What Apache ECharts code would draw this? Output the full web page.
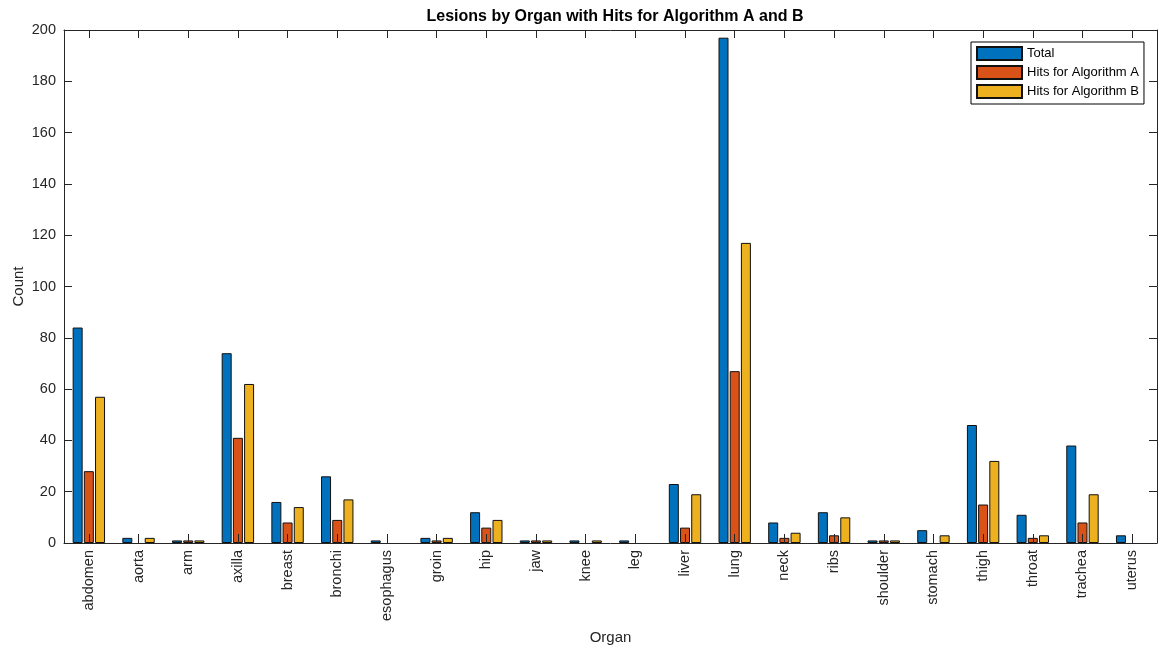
<!DOCTYPE html>
<html>
<head>
<meta charset="utf-8">
<script src="https://cdn.jsdelivr.net/npm/echarts@6/dist/echarts.min.js"></script>
<style>
	html, body { margin: 0; padding: 0; background: #fff; }
	#chart { width: 1159px; height: 649px; }
</style>
</head>
<body>
<div id="chart"></div>
<script>
"use strict";

var organs = ['abdomen', 'aorta', 'arm', 'axilla', 'breast', 'bronchi', 'esophagus', 'groin', 'hip', 'jaw', 'knee',
	'leg', 'liver', 'lung', 'neck', 'ribs', 'shoulder', 'stomach', 'thigh', 'throat', 'trachea', 'uterus'];
var total = [84, 2, 1, 74, 16, 26, 1, 2, 12, 1, 1, 1, 23, 197, 8, 12, 1, 5, 46, 11, 38, 3];
var hitsA = [28, 0, 1, 41, 8, 9, 0, 1, 6, 1, 0, 0, 6, 67, 2, 3, 1, 0, 15, 2, 8, 0];
var hitsB = [57, 2, 1, 62, 14, 17, 0, 2, 9, 1, 1, 0, 19, 117, 4, 10, 1, 3, 32, 3, 19, 0];
var yTicks = [0, 20, 40, 60, 80, 100, 120, 140, 160, 180, 200];

var axisColor = '#262626';
var fontFamily = '"Liberation Sans", Arial, sans-serif';

var myChart = echarts.init(document.getElementById('chart'));

// zero counts draw no bar at all in the original
function noZero(arr) {
	return arr.map(function (v) { return v === 0 ? '-' : v; });
}

function barSeries(name, data, color) {
	return {
		name: name,
		type: 'bar',
		data: noZero(data),
		barWidth: 10,
		barGap: '12%',
		itemStyle: {
			color: color,
			borderColor: '#111',
			borderWidth: 1
		}
	};
}

var option = {
	animation: false,
	textStyle: { fontFamily: fontFamily },
	title: {
		text: 'Lesions by Organ with Hits for Algorithm A and B',
		left: 610,
		textAlign: 'center',
		top: 4,
		textStyle: { fontSize: 16, fontWeight: 'bold', color: '#000', fontFamily: fontFamily }
	},
	legend: {
		orient: 'vertical',
		left: 971,
		top: 42,
		padding: [4, 5, 5, 5],
		itemGap: 4,
		itemWidth: 45,
		itemHeight: 13,
		icon: 'rect',
		borderColor: '#000',
		borderWidth: 1,
		backgroundColor: '#fff',
		textStyle: { fontSize: 13, color: '#000', lineHeight: 13 },
		data: ['Total', 'Hits for Algorithm A', 'Hits for Algorithm B']
	},
	grid: {
		left: 64,
		right: 2,
		top: 30,
		bottom: 106,
		outerBoundsMode: 'none'
	},
	xAxis: [{
		type: 'category',
		data: organs,
		z: 5,
		name: 'Organ',
		nameLocation: 'middle',
		nameGap: 87,
		nameTextStyle: { fontSize: 15, color: axisColor },
		axisLine: { onZero: false, lineStyle: { color: axisColor, width: 1 } },
		axisTick: { show: true, inside: true, alignWithLabel: true, interval: 0, length: 9, lineStyle: { color: axisColor, width: 1 } },
		axisLabel: { rotate: 90, margin: 7, fontSize: 14.5, color: axisColor, interval: 0 },
		splitLine: { show: false }
	}, {
		type: 'category',
		data: organs,
		position: 'top',
		z: 5,
		axisLine: { show: true, onZero: false, lineStyle: { color: axisColor, width: 1 } },
		axisTick: { show: true, inside: true, alignWithLabel: true, interval: 0, length: 8, lineStyle: { color: axisColor, width: 1 } },
		axisLabel: { show: false },
		splitLine: { show: false }
	}],
	yAxis: [{
		type: 'value',
		min: 0,
		max: 200,
		interval: 20,
		z: 5,
		name: 'Count',
		nameLocation: 'middle',
		nameGap: 38,
		nameMoveOverlap: false,
		nameTextStyle: { fontSize: 15, color: axisColor },
		axisLine: { show: true, onZero: false, lineStyle: { color: axisColor, width: 1 } },
		axisTick: { show: true, inside: true, length: 8, lineStyle: { color: axisColor } },
		axisLabel: {
			fontSize: 14.5,
			color: axisColor,
			margin: 8,
			formatter: function (v) { return yTicks.indexOf(v) >= 0 ? String(v) : ''; }
		},
		splitLine: { show: false }
	}, {
		type: 'value',
		min: 0,
		max: 200,
		interval: 20,
		position: 'right',
		z: 5,
		axisLine: { show: true, onZero: false, lineStyle: { color: axisColor, width: 1 } },
		axisTick: { show: true, inside: true, length: 8, lineStyle: { color: axisColor } },
		axisLabel: { show: false },
		splitLine: { show: false }
	}],
	series: [
		barSeries('Total', total, '#0072BD'),
		barSeries('Hits for Algorithm A', hitsA, '#D95319'),
		barSeries('Hits for Algorithm B', hitsB, '#EDB120')
	]
};

myChart.setOption(option);
</script>
</body>
</html>
